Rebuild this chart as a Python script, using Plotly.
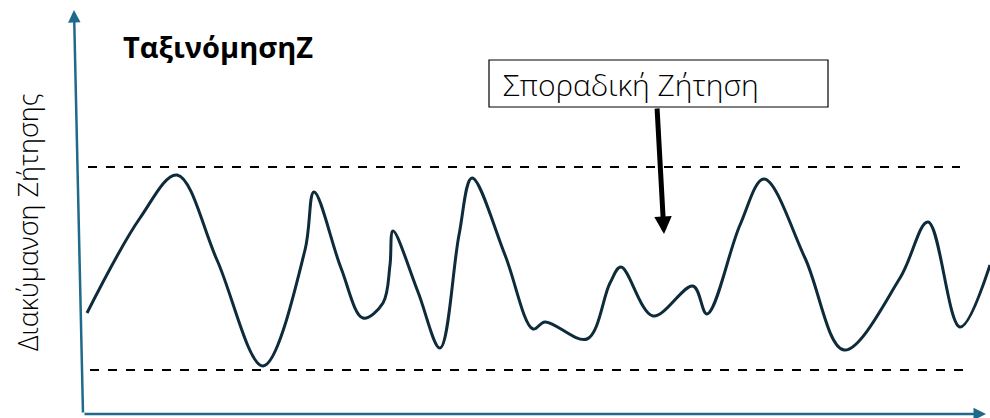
import plotly.graph_objects as go

# demand curve (time, level)
time = [87, 140, 177, 217, 263, 305, 314, 341, 363, 383, 390, 393, 418, 440, 459, 472, 505, 533, 545, 587,
        610, 621, 653, 693, 707, 740, 764, 805, 844, 900, 928, 960, 990]
level = [313, 218, 175, 260, 366, 250, 192, 268, 318, 303, 265, 231, 292, 348, 235, 178, 255, 329, 322, 339,
         283, 267, 316, 286, 314, 225, 179, 258, 350, 278, 222, 327, 265]

upper_limit = 167
lower_limit = 370

title_text = "ΤαξινόμησηZ"
ylabel_text = "Διακύμανση Ζήτησης"
box_text = "Σποραδική Ζήτηση"

axis_col = "#1f6a8a"
curve_col = "#0d2b3a"

H = 418
lv = [H - v for v in level]

fig = go.Figure()
fig.add_trace(go.Scatter(x=time, y=lv, mode="lines",
                         line=dict(color=curve_col, width=3, shape="spline", smoothing=1.0),
                         hoverinfo="skip", showlegend=False))

# control limits
fig.add_shape(type="line", x0=88, x1=960, y0=H - upper_limit, y1=H - upper_limit,
              line=dict(color="black", width=1.8, dash="dash"))
fig.add_shape(type="line", x0=90, x1=971, y0=H - lower_limit, y1=H - lower_limit,
              line=dict(color="black", width=1.8, dash="dash"))

# axes drawn as arrows
fig.add_annotation(x=986, y=H - 414, ax=83, ay=H - 414, xref="x", yref="y", axref="x", ayref="y",
                   text="", showarrow=True, arrowhead=2, arrowsize=1, arrowwidth=2.5, arrowcolor=axis_col)
fig.add_annotation(x=74, y=H - 10, ax=83, ay=H - 414, xref="x", yref="y", axref="x", ayref="y",
                   text="", showarrow=True, arrowhead=2, arrowsize=1, arrowwidth=2.5, arrowcolor=axis_col)

# callout box + arrow
fig.add_shape(type="rect", x0=489, x1=828, y0=H - 60, y1=H - 107,
              line=dict(color="black", width=1.2), fillcolor="white")
fig.add_annotation(x=501, y=H - 84, text=box_text, showarrow=False, xanchor="left", yanchor="middle",
                   font=dict(family="Open Sans", size=30, color="black", weight=300))
fig.add_annotation(x=664, y=H - 234, ax=657, ay=H - 107, xref="x", yref="y", axref="x", ayref="y",
                   text="", showarrow=True, arrowhead=2, arrowsize=0.7, arrowwidth=5, arrowcolor="black")

# title and y label
fig.add_annotation(x=121, y=H - 46, text="<b>" + title_text + "</b>", showarrow=False,
                   xanchor="left", yanchor="middle",
                   font=dict(family="Open Sans", size=29, color="black"))
fig.add_annotation(x=27, y=H - 222, text=ylabel_text, showarrow=False, textangle=-90,
                   xanchor="center", yanchor="middle",
                   font=dict(family="Open Sans", size=27, color="black", weight=300))

fig.update_layout(width=990, height=418, margin=dict(l=0, r=0, t=0, b=0),
                  paper_bgcolor="white", plot_bgcolor="white",
                  xaxis=dict(range=[0, 990], visible=False, fixedrange=True),
                  yaxis=dict(range=[0, H], visible=False, fixedrange=True))

fig.write_html("out.html", config={"displayModeBar": False},
               post_script="document.body.style.margin='0';")
